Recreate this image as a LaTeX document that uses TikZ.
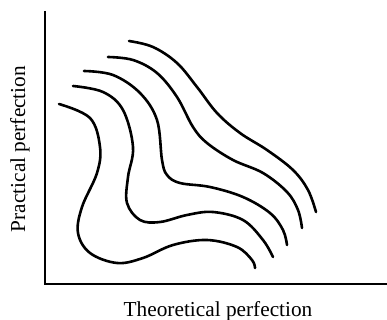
\documentclass[tikz,border=0pt]{standalone}
\usepackage{fontspec}
\setmainfont{Liberation Serif}
\begin{document}
\begin{tikzpicture}[x=1pt,y=-1pt,
  curve/.style={line width=2.6pt,line cap=round,line join=round},
  axis/.style={line width=2.2pt},
  lab/.style={font=\fontsize{21.3}{24}\selectfont,inner sep=0pt}]
\useasboundingbox (0,0) rectangle (387,320);
\coordinate (top) at (45,11);
\coordinate (origin) at (45,284);
\coordinate (right) at (387,284);
\draw[axis] (top) -- (origin) -- (right);
\node[lab,anchor=base] (xl) at (218,316) {Theoretical perfection};
\node[lab,anchor=base,rotate=90] (yl) at (25,149) {Practical perfection};
% curve 1
\draw[curve] plot[smooth,tension=0.6] coordinates {(59,104) (90,118) (100,147) (97,173) (82,207) (78,233) (90,253) (117,263) (143,258) (173,245) (207,240) (237,247) (252,260) (255,268)};
% curve 2
\draw[curve] plot[smooth,tension=0.6] coordinates {(73,86) (103,92) (123,110) (133,147) (128,177) (127,203) (140,220) (160,222) (187,215) (213,212) (243,220) (263,240) (273,257)};
% curve 3
\draw[curve] plot[smooth,tension=0.6] coordinates {(84,71) (113,75) (140,93) (157,120) (162,160) (167,175) (180,183) (210,187) (243,197) (270,213) (283,230) (287,245)};
% curve 4
\draw[curve] plot[smooth,tension=0.6] coordinates {(108,57) (133,60) (157,73) (177,97) (193,127) (207,143) (233,160) (263,173) (287,192) (298,210) (302,228)};
% curve 5
\draw[curve] plot[smooth,tension=0.6] coordinates {(129,41) (153,47) (177,63) (197,87) (217,113) (240,133) (267,150) (293,170) (308,190) (316,212)};
\end{tikzpicture}
\end{document}
